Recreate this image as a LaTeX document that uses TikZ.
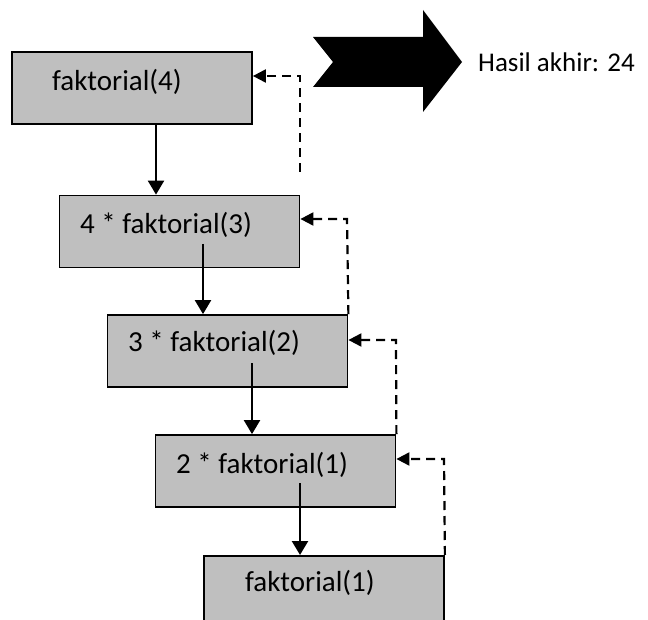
\documentclass[tikz,border=0pt]{standalone}
\usepackage{fontspec}
\setmainfont{Carlito}
\usetikzlibrary{arrows.meta}
\definecolor{boxgray}{RGB}{191,191,191}
\tikzset{
  callbox/.style={draw=black, fill=boxgray, line width=1.8pt, rectangle,
    minimum width=240pt, minimum height=72pt, inner sep=0pt},
  calltext/.style={anchor=west, inner sep=0pt, font=\fontsize{29}{31}\selectfont},
  flow/.style={line width=2.4pt, -{Triangle[length=14pt,width=16pt]}},
  ret/.style={line width=2.2pt, dash pattern=on 9pt off 6pt,
    -{Triangle[length=13pt,width=13pt]}},
}
\begin{document}
\begin{tikzpicture}[x=1pt,y=-1pt]
\useasboundingbox (0,0) rectangle (648,620);
\clip (0,0) rectangle (648,620);

% call frames
\node[callbox] (b1) at (132,88) {};
\node[callbox] (b2) at (179.5,231.5) {};
\node[callbox] (b3) at (227.5,351) {};
\node[callbox] (b4) at (275.5,471) {};
\node[callbox, anchor=north, minimum height=90pt] (b5) at (324,555) {};

\node[calltext] (t1) at (52,82) {faktorial(4)};
\node[calltext] (t2) at (80,225) {4 * faktorial(3)};
\node[calltext] (t3) at (128,343) {3 * faktorial(2)};
\node[calltext] (t4) at (176,465) {2 * faktorial(1)};
\node[calltext] (t5) at (245,583) {faktorial(1)};

% recursive calls
\coordinate (s1) at (156,124);
\coordinate (s2) at (203,244);
\coordinate (s3) at (252,363);
\coordinate (s4) at (300,483);
\draw[flow] (s1) -- (s1 |- b2.north);
\draw[flow] (s2) -- (s2 |- b3.north);
\draw[flow] (s3) -- (s3 |- b4.north);
\draw[flow] (s4) -- (s4 |- b5.north);

% returned values
\coordinate (r1) at (300,172);
\draw[ret] (r1) -- (300,76) -- (b1.east |- 0,76);
\draw[ret] (b3.north east) -- (347,219) -- (b2.east |- 0,219);
\draw[ret] (b4.north east) -- (396,340) -- (b3.east |- 0,340);
\draw[ret] (b5.north east) -- (444,459) -- (b4.east |- 0,459);

% final result
\fill[black] (313,37) -- (423,37) -- (423,10) -- (462,62) -- (423,112)
  -- (423,87) -- (313,87) -- (333,62) -- cycle;
\node[calltext, font=\fontsize{27}{29}\selectfont] (res) at (478,62) {Hasil akhir: 24};
\end{tikzpicture}
\end{document}
